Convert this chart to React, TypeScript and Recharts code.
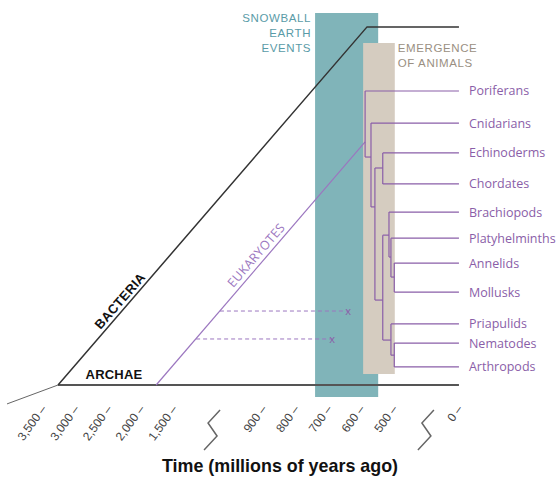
import { ComposedChart, Line, XAxis, YAxis, ReferenceArea, Scatter, Label } from 'recharts';

// time axis (millions of years ago), broken twice
const tickTimes = [3500, 3000, 2500, 2000, 1500, 900, 800, 700, 600, 500, 0];
const tickLabels = ['3,500', '3,000', '2,500', '2,000', '1,500', '900', '800', '700', '600', '500', '0'];

// lineages: times (Ma) and vertical rows
const stemTimes = [4050, 3270];
const stemRows = [11.42, 10.73];
const bacteriaTimes = [3270, 582, 0];
const bacteriaRows = [10.73, -2.34, -2.34];
const archaeTimes = [3270, 0];
const archaeRows = [10.73, 10.73];
const eukaryoteTimes = [1770, 588];
const eukaryoteRows = [10.73, 1.86];
const fossilStart = [1190, 1350];
const fossilEnd = [640, 689];
const fossilRows = [8.03, 9.05];

// shaded periods
const snowballTimes = [741, 548];
const animalTimes = [594, 493];

// animal phylogeny
const leafNames = ['Poriferans', 'Cnidarians', 'Echinoderms', 'Chordates', 'Brachiopods', 'Platyhelminths', 'Annelids', 'Mollusks', 'Priapulids', 'Nematodes', 'Arthropods'];
const leafRows = [0, 1.17, 2.26, 3.39, 4.42, 5.37, 6.28, 7.34, 8.5, 9.2, 10.07];
const cladeNames = ['root', 'eumetazoa', 'bilateria', 'deuterostomes', 'protostomes', 'lophotrochozoa', 'lopho2', 'lopho3', 'ecdysozoa', 'ecdy2'];
const cladeTimes = [588, 570, 558, 534, 534, 515, 509, 497, 509, 497];
const cladeRows = [1.86, 2.41, 4.23, 2.81, 7.63, 5.26, 6.06, 6.79, 9.09, 9.64];
const cladeChildren = [
  ['Poriferans', 'eumetazoa'],
  ['Cnidarians', 'bilateria'],
  ['deuterostomes', 'protostomes'],
  ['Echinoderms', 'Chordates'],
  ['lophotrochozoa', 'ecdysozoa'],
  ['Brachiopods', 'lopho2'],
  ['Platyhelminths', 'lopho3'],
  ['Annelids', 'Mollusks'],
  ['Priapulids', 'ecdy2'],
  ['Nematodes', 'Arthropods'],
];

const annotationText = ['BACTERIA', 'ARCHAE', 'EUKARYOTES'];
const annotationTimes = [2323, 2414, 947];
const annotationRows = [7.66, 10.36, 5.99];

// axis layout: slot of each tick on the broken axis
const AXIS_SLOTS = [0, 1, 2, 3, 4, 6.73, 7.73, 8.73, 9.73, 10.73, 12.72];
const BREAK_SLOTS = [5.2, 11.74];
const PURPLE = '#8a5ea8';
const HELV = '"Liberation Sans", Arial, sans-serif';
const SANS = '"Open Sans", "Noto Sans", sans-serif';

function toU(t: number) {
  if (t >= tickTimes[0]) return AXIS_SLOTS[0] + (tickTimes[0] - t) / 500;
  for (let i = 0; i < tickTimes.length - 1; i++) {
    const a = tickTimes[i], b = tickTimes[i + 1];
    if (t <= a && t >= b) return AXIS_SLOTS[i] + ((a - t) / (a - b)) * (AXIS_SLOTS[i + 1] - AXIS_SLOTS[i]);
  }
  return AXIS_SLOTS[AXIS_SLOTS.length - 1];
}

const pts = (times: number[], rows: number[]) => times.map((t, i) => ({ u: toU(t), y: rows[i] }));

// tree segments
const nodeTime: Record<string, number> = {};
const nodeRow: Record<string, number> = {};
leafNames.forEach((n, i) => { nodeTime[n] = 0; nodeRow[n] = leafRows[i]; });
cladeNames.forEach((n, i) => { nodeTime[n] = cladeTimes[i]; nodeRow[n] = cladeRows[i]; });
const treeSegments: { u: number; y: number }[][] = [];
cladeNames.forEach((n, i) => {
  const kids = cladeChildren[i];
  const rows = kids.map((k) => nodeRow[k]);
  treeSegments.push(pts([cladeTimes[i], cladeTimes[i]], [Math.min(...rows), Math.max(...rows)]));
  kids.forEach((k) => treeSegments.push(pts([cladeTimes[i], nodeTime[k]], [nodeRow[k], nodeRow[k]])));
});

const leafData = leafNames.map((n, i) => ({ u: toU(0), y: leafRows[i], name: n }));
const fossilMarks = fossilEnd.map((t, i) => ({ u: toU(t), y: fossilRows[i] }));
const annotations = annotationText.map((s, i) => ({ u: toU(annotationTimes[i]), y: annotationRows[i], text: s }));
const annotationStyle = [
  { fill: '#111', fontWeight: 700, fontSize: 13, angle: -49, font: HELV, spacing: 0.3 },
  { fill: '#111', fontWeight: 700, fontSize: 13, angle: 0, font: HELV, spacing: 0.2 },
  { fill: '#9b76bf', fontWeight: 400, fontSize: 12.5, angle: -49, font: SANS, spacing: 0.3 },
];

const TimeTick = (props: any) => {
  const { x, y, payload } = props;
  const b = BREAK_SLOTS.indexOf(payload.value);
  if (b >= 0) {
    return (
      <path d={`M${x + 7},${y} L${x - 5},${y + 13} L${x + 4},${y + 26} L${x - 9},${y + 40}`} stroke="#666" strokeWidth={1.5} fill="none" />
    );
  }
  const i = AXIS_SLOTS.indexOf(payload.value);
  const tx = x + 4, ty = y - 1;
  return (
    <text x={tx} y={ty} textAnchor="end" transform={`rotate(-54 ${tx} ${ty})`} fontSize={12} fill="#444" fontFamily={HELV}>
      {tickLabels[i] + ' \u2013'}
    </text>
  );
};

const TitleLabel = (p: any) => {
  const { x, width } = p.viewBox;
  const cx = x + width / 2;
  return (
    <text x={cx} y={472} textAnchor="middle" fontSize={19} fontWeight={700} fill="#111" fontFamily={HELV} textLength={236} lengthAdjust="spacingAndGlyphs">
      Time (millions of years ago)
    </text>
  );
};

const boxLabel = (lines: string[], color: string, side: 'left' | 'right') => (p: any) => {
  const { x, y, width } = p.viewBox;
  const tx = side === 'left' ? x - 4 : x + width + 3;
  return (
    <g>
      {lines.map((l, i) => (
        <text key={l} x={tx} y={y + 9 + i * 15} textAnchor={side === 'left' ? 'end' : 'start'} fontSize={11.5} fill={color} fontFamily={HELV} letterSpacing={0.6}>
          {l}
        </text>
      ))}
    </g>
  );
};

export default function App() {
  return (
    <div style={{ position: 'absolute', left: 0, top: 0 }}>
      <ComposedChart width={560} height={479} margin={{ top: 0, right: 0, bottom: 0, left: 0 }}>
        <XAxis
          dataKey="u"
          type="number"
          domain={[-1.315, 15.81]}
          allowDataOverflow
          ticks={[...AXIS_SLOTS, ...BREAK_SLOTS]}
          interval={0}
          axisLine={false}
          tickLine={false}
          tickSize={0}
          tickMargin={0}
          height={69}
          tick={<TimeTick />}
        >
          <Label content={<TitleLabel />} />
        </XAxis>
        <YAxis dataKey="y" type="number" domain={[-3.321, 11.642]} reversed hide allowDataOverflow />
        <ReferenceArea
          x1={toU(snowballTimes[0])}
          x2={toU(snowballTimes[1])}
          y1={-2.85}
          y2={11.17}
          fill="#80b4b9"
          fillOpacity={1}
          stroke="none"
          ifOverflow="visible"
          label={boxLabel(['SNOWBALL', 'EARTH', 'EVENTS'], '#5a9ba7', 'left')}
        />
        <ReferenceArea
          x1={toU(animalTimes[0])}
          x2={toU(animalTimes[1])}
          y1={-1.75}
          y2={10.33}
          fill="#d5ccc0"
          fillOpacity={1}
          stroke="none"
          ifOverflow="visible"
          label={boxLabel(['EMERGENCE', 'OF ANIMALS'], '#9a8f82', 'right')}
        />
        <Line data={pts(stemTimes, stemRows)} dataKey="y" stroke="#666" strokeWidth={1} dot={false} activeDot={false} isAnimationActive={false} />
        <Line data={pts(archaeTimes, archaeRows)} dataKey="y" stroke="#555" strokeWidth={2} dot={false} activeDot={false} isAnimationActive={false} />
        <Line data={pts(bacteriaTimes, bacteriaRows)} dataKey="y" stroke="#333" strokeWidth={1.5} dot={false} activeDot={false} isAnimationActive={false} />
        <Line data={pts(eukaryoteTimes, eukaryoteRows)} dataKey="y" stroke="#9b76bf" strokeWidth={1.2} dot={false} activeDot={false} isAnimationActive={false} />
        {fossilStart.map((t, i) => (
          <Line
            key={'f' + i}
            data={pts([t, fossilEnd[i]], [fossilRows[i], fossilRows[i]])}
            dataKey="y"
            stroke="#9b76bf"
            strokeWidth={1}
            strokeDasharray="4 3"
            dot={false}
            activeDot={false}
            isAnimationActive={false}
          />
        ))}
        {treeSegments.map((s, i) => (
          <Line key={'t' + i} data={s} dataKey="y" stroke={PURPLE} strokeWidth={1.2} dot={false} activeDot={false} isAnimationActive={false} />
        ))}
        <Scatter
          data={fossilMarks}
          dataKey="y"
          isAnimationActive={false}
          shape={(p: any) => (
            <text x={p.cx} y={p.cy + 4} textAnchor="middle" fontSize={11} fill="#8a5ea8" fontFamily={SANS}>x</text>
          )}
        />
        <Scatter
          data={leafData}
          dataKey="y"
          isAnimationActive={false}
          shape={(p: any) => (
            <text x={p.cx + 10} y={p.cy + 4.5} fontSize={12.5} fill={PURPLE} fontFamily={SANS}>{p.payload.name}</text>
          )}
        />
        <Scatter
          data={annotations}
          dataKey="y"
          isAnimationActive={false}
          shape={(p: any) => {
            const st = annotationStyle[annotationText.indexOf(p.payload.text)];
            return (
              <text
                x={p.cx}
                y={p.cy}
                textAnchor="middle"
                dominantBaseline="central"
                transform={`rotate(${st.angle} ${p.cx} ${p.cy})`}
                fontSize={st.fontSize}
                fontWeight={st.fontWeight}
                fill={st.fill}
                fontFamily={st.font}
                letterSpacing={st.spacing}
              >
                {p.payload.text}
              </text>
            );
          }}
        />
      </ComposedChart>
    </div>
  );
}
